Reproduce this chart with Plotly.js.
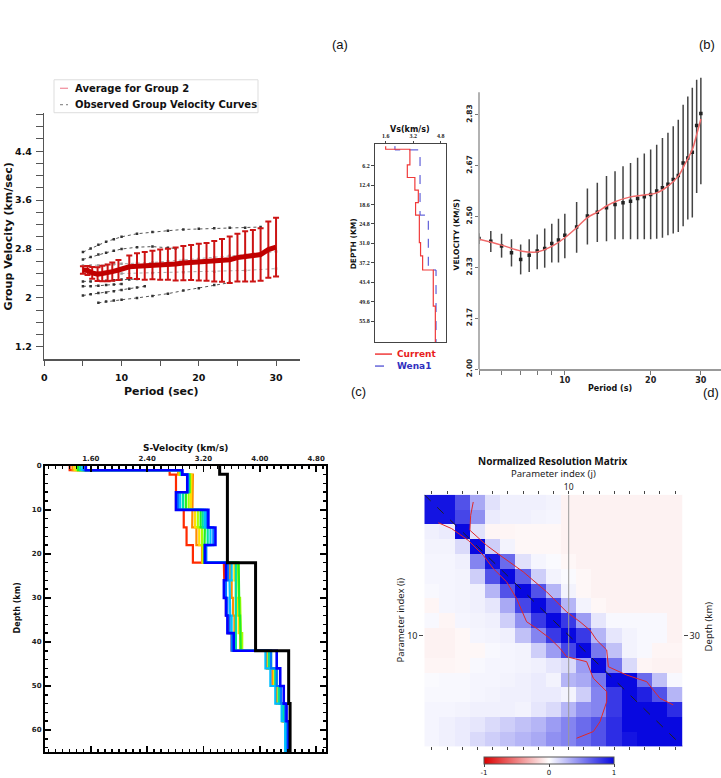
<!DOCTYPE html>
<html><head><meta charset="utf-8">
<script src="https://cdn.plot.ly/plotly-3.0.1.min.js"></script>
<style>html,body{margin:0;padding:0;background:#fff;}#chart{width:721px;height:778px;}</style>
</head><body><div id="chart"></div>
<script>
// ---------- (a) left: group velocity ----------
const avgPeriod = [5, 5.6, 6.2, 6.9, 7.5, 8.2, 8.8, 9.6, 11, 12, 13, 14, 15, 16, 17, 18, 19, 20, 21, 22, 23, 24, 25, 26, 27, 28, 29, 30];
const avgVel = [2.457, 2.45, 2.41, 2.39, 2.40, 2.41, 2.43, 2.457, 2.51, 2.52, 2.525, 2.54, 2.545, 2.55, 2.555, 2.57, 2.58, 2.585, 2.59, 2.60, 2.615, 2.625, 2.66, 2.68, 2.69, 2.71, 2.79, 2.83];
const avgErr = [0.06, 0.073, 0.095, 0.114, 0.128, 0.136, 0.15, 0.163, 0.185, 0.21, 0.226, 0.234, 0.247, 0.253, 0.27, 0.28, 0.285, 0.30, 0.31, 0.33, 0.35, 0.38, 0.39, 0.41, 0.42, 0.43, 0.46, 0.48];
const obsAP = [5, 6, 7, 8, 9, 10, 12, 14, 16, 18, 20, 22, 24, 26, 28];
const obsAV = [2.75, 2.81, 2.87, 2.92, 2.96, 3.00, 3.05, 3.08, 3.10, 3.12, 3.13, 3.14, 3.15, 3.15, 3.16];
const obsBP = [5, 6, 7, 8, 9, 10, 12, 14, 16, 17];
const obsBV = [2.63, 2.67, 2.71, 2.74, 2.77, 2.80, 2.83, 2.84, 2.82, 2.81];
const obsCP = [5, 6, 7, 8, 9, 10, 12, 14, 16, 18, 20, 22, 24, 26, 28, 30];
const obsCV = [2.53, 2.53, 2.53, 2.54, 2.55, 2.56, 2.57, 2.58, 2.60, 2.62, 2.64, 2.66, 2.69, 2.71, 2.73, 2.76];
const obsDP = [5, 6, 7, 8, 9, 10, 11, 12];
const obsDV = [2.27, 2.27, 2.28, 2.28, 2.29, 2.30, 2.30, 2.31];
const obsEP = [5, 6, 7, 8, 9, 10];
const obsEV = [2.19, 2.19, 2.20, 2.21, 2.22, 2.23];
const obsFP = [5, 6, 7, 8, 9, 10, 11, 12, 13];
const obsFV = [2.04, 2.06, 2.08, 2.09, 2.11, 2.13, 2.15, 2.17, 2.19];
const obsGP = [7, 8, 9, 10, 12, 14, 16, 18, 20, 22, 24];
const obsGV = [1.92, 1.94, 1.96, 1.97, 2.00, 2.03, 2.07, 2.12, 2.16, 2.21, 2.25];
const obsHP = [10, 14, 18, 22, 26, 30];
const obsHV = [2.40, 2.41, 2.42, 2.43, 2.45, 2.48];
const aXTickVals = [0, 5, 10, 15, 20, 25, 30];
const aXTickText = ['0', '', '10', '', '20', '', '30'];
const aYTickVals = [1.2, 1.4, 1.6, 1.8, 2.0, 2.2, 2.4, 2.6, 2.8, 3.0, 3.2, 3.4, 3.6, 3.8, 4.0, 4.2, 4.4, 4.6, 4.8, 5.0];
const aYTickText = ['1.2', '', '', '', '2', '', '', '', '2.8', '', '', '', '3.6', '', '', '', '4.4', '', '', ''];

// ---------- (a) middle: Vs profiles ----------
const curBnd = [0, 1, 6, 10, 14, 18, 22, 30.8, 35, 39.5, 51, 62.5];
const curVs = [1.6, 3.01, 2.86, 3.30, 3.50, 3.34, 3.56, 3.63, 3.75, 4.37, 4.49];
const wenaBnd = [0, 1.2, 22, 39.5, 62.5];
const wenaVs = [2.14, 3.60, 4.08, 4.53];
const vsXTicks = [1.6, 3.2, 4.8];
const vsYTicks = [6.2, 12.4, 18.6, 24.8, 31.0, 37.2, 43.4, 49.6, 55.8];

// ---------- (b) dispersion fit ----------
const bPeriod = [5.0, 5.5, 6.0, 6.5, 7.0, 7.5, 8.0, 8.5, 9.0, 9.5, 10, 11, 12, 13, 14, 15, 16, 17, 18, 19, 20, 21, 22, 23, 24, 25, 26, 27, 28, 29, 30];
const bVel = [2.428, 2.419, 2.403, 2.381, 2.359, 2.373, 2.387, 2.395, 2.411, 2.423, 2.438, 2.465, 2.501, 2.514, 2.528, 2.539, 2.545, 2.550, 2.559, 2.564, 2.572, 2.583, 2.594, 2.605, 2.621, 2.634, 2.675, 2.691, 2.710, 2.798, 2.837];
const bTop = [2.445, 2.452, 2.443, 2.425, 2.408, 2.425, 2.441, 2.460, 2.476, 2.492, 2.509, 2.547, 2.591, 2.610, 2.632, 2.648, 2.664, 2.675, 2.692, 2.706, 2.719, 2.735, 2.757, 2.774, 2.795, 2.817, 2.866, 2.893, 2.921, 2.948, 2.990];
const bBot = [2.41, 2.383, 2.365, 2.336, 2.310, 2.318, 2.327, 2.332, 2.349, 2.349, 2.363, 2.381, 2.408, 2.416, 2.419, 2.425, 2.425, 2.425, 2.425, 2.425, 2.425, 2.427, 2.430, 2.438, 2.444, 2.449, 2.468, 2.490, 2.496, 2.577, 2.605];
const fitPeriod = [5, 6, 7, 7.9, 9, 10, 11, 12, 13, 14, 15, 17, 19, 21, 23, 25, 26.5, 28, 29, 30];
const fitVel = [2.425, 2.406, 2.387, 2.383, 2.402, 2.430, 2.463, 2.496, 2.514, 2.534, 2.548, 2.564, 2.570, 2.577, 2.599, 2.632, 2.675, 2.719, 2.768, 2.819];
const bXTickVals = [5, 6, 7, 8, 9, 10, 20, 30];
const bXTickText = ['', '', '', '', '', '10', '20', '30'];
const bYTickVals = [2.0, 2.1667, 2.3333, 2.5, 2.6667, 2.8333];
const bYTickText = ['2.00', '2.17', '2.33', '2.50', '2.67', '2.83'];

// ---------- (c) S-velocity model ensemble ----------
const layerBnd = [0, 1, 2, 6, 10, 14, 18, 22, 26, 30, 34, 38, 42, 46, 50, 54, 58, 65];
const profRed    = [1.30, 2.72, 2.81, 2.81, 2.92, 2.96, 3.05, 3.49, 3.50, 3.52, 3.55, 3.60, 4.10, 4.18, 4.24, 4.32, 4.38];
const profOrange = [1.34, 2.84, 3.05, 3.05, 3.04, 3.10, 3.18, 3.58, 3.60, 3.62, 3.64, 3.66, 4.11, 4.19, 4.25, 4.32, 4.38];
const profYellow = [1.37, 2.86, 3.03, 3.02, 3.08, 3.14, 3.19, 3.64, 3.66, 3.68, 3.70, 3.72, 4.12, 4.20, 4.26, 4.33, 4.38];
const profLime   = [1.40, 2.87, 3.01, 2.99, 3.12, 3.18, 3.20, 3.69, 3.70, 3.72, 3.73, 3.75, 4.14, 4.22, 4.27, 4.34, 4.39];
const profGreen  = [1.42, 2.88, 3.00, 2.95, 3.16, 3.22, 3.21, 3.70, 3.70, 3.71, 3.72, 3.73, 4.16, 4.24, 4.28, 4.35, 4.40];
const profTeal   = [1.45, 2.89, 2.99, 2.91, 3.19, 3.26, 3.22, 3.66, 3.66, 3.67, 3.66, 3.66, 4.13, 4.22, 4.27, 4.33, 4.39];
const profCyan   = [1.48, 2.89, 2.98, 2.87, 3.22, 3.30, 3.23, 3.60, 3.57, 3.58, 3.60, 3.62, 4.08, 4.15, 4.22, 4.31, 4.36];
const profAzure  = [1.50, 2.90, 2.97, 2.84, 3.25, 3.34, 3.24, 3.55, 3.52, 3.54, 3.57, 3.60, 4.16, 4.24, 4.30, 4.36, 4.39];
const profBlue   = [1.53, 2.90, 2.97, 2.81, 3.27, 3.37, 3.22, 3.52, 3.49, 3.52, 3.54, 3.63, 4.24, 4.29, 4.34, 4.38, 4.41];
const initBnd = [0, 1.9, 22, 42, 54, 65];
const initVs = [3.43, 3.54, 3.94, 4.41, 4.43];

// ---------- (d) resolution matrix ----------
const paramIdx = [1, 2, 3, 4, 5, 6, 7, 8, 9, 10, 11, 12, 13, 14, 15, 16, 17];
const resMatrix = [
 [0.95, 0.95, 0.70, 0.35, 0.12, 0.06, 0.06, 0.06, 0.05, -0.05, -0.05, -0.05, -0.05, -0.05, -0.05, -0.05, -0.05],
 [0.95, 0.95, 0.75, 0.45, 0.08, 0.06, 0.06, 0.05, 0.04, -0.05, -0.05, -0.05, -0.05, -0.05, -0.05, -0.05, -0.05],
 [0.06, 0.08, 1.00, 0.12, -0.04, -0.04, -0.03, -0.03, -0.03, -0.05, -0.05, -0.05, -0.05, -0.05, -0.05, -0.05, -0.05],
 [0.05, 0.05, 0.15, 1.00, 0.20, 0.05, -0.03, -0.03, -0.03, -0.05, -0.05, -0.05, -0.05, -0.05, -0.05, -0.05, -0.05],
 [0.04, 0.04, 0.06, 0.50, 0.95, 0.60, 0.12, 0.04, 0.02, -0.03, -0.05, -0.05, -0.05, -0.05, -0.05, -0.05, -0.05],
 [0.04, 0.04, 0.05, 0.20, 0.70, 1.00, 0.65, 0.20, 0.05, 0.02, -0.03, -0.05, -0.05, -0.05, -0.05, -0.05, -0.05],
 [0.03, 0.04, 0.05, 0.06, 0.30, 0.70, 1.00, 0.70, 0.30, 0.05, -0.03, -0.05, -0.05, -0.05, -0.05, -0.05, -0.05],
 [-0.04, 0.04, 0.05, 0.06, 0.10, 0.35, 0.75, 1.00, 0.75, 0.30, 0.05, -0.03, -0.05, -0.05, -0.05, -0.05, -0.05],
 [0.03, -0.04, 0.04, 0.05, 0.06, 0.20, 0.45, 0.80, 1.00, 0.80, 0.40, 0.10, 0.03, 0.03, 0.03, 0.03, -0.05],
 [-0.05, -0.05, -0.03, 0.04, 0.05, 0.06, 0.25, 0.50, 0.80, 1.00, 0.80, 0.30, 0.10, 0.05, 0.03, 0.03, -0.05],
 [-0.05, -0.05, -0.03, -0.03, 0.03, 0.04, 0.05, 0.20, 0.40, 0.75, 1.00, 0.55, 0.25, 0.05, 0.03, -0.04, -0.04],
 [-0.04, -0.04, -0.03, 0.03, 0.04, 0.04, 0.05, 0.06, 0.10, 0.15, 0.40, 1.00, 0.55, 0.15, -0.04, -0.05, -0.05],
 [0.02, 0.03, 0.03, 0.04, 0.04, 0.05, 0.06, 0.08, 0.05, 0.30, 0.35, 0.55, 1.00, 1.00, 0.60, 0.25, 0.03],
 [0.03, 0.03, 0.03, 0.04, 0.05, 0.06, 0.06, 0.08, 0.08, 0.05, 0.20, 0.50, 0.80, 1.00, 0.90, 0.70, 0.30],
 [0.04, 0.04, 0.05, 0.06, 0.06, 0.06, 0.05, 0.10, 0.15, 0.30, 0.45, 0.50, 0.80, 1.00, 1.00, 1.00, 0.85],
 [0.04, 0.06, 0.08, 0.10, 0.15, 0.20, 0.25, 0.30, 0.40, 0.50, 0.60, 0.70, 0.85, 1.00, 1.00, 1.00, 1.00],
 [0.04, 0.06, 0.08, 0.15, 0.20, 0.25, 0.30, 0.35, 0.45, 0.50, 0.60, 0.70, 0.85, 0.95, 1.00, 1.00, 1.00]
];
const contourAJ = [3.72, 3.55, 3.50, 4.60, 5.48, 7.01, 8.55, 9.86, 10.74, 11.40, 11.84, 12.50, 12.61, 13.81, 15.13, 16.00, 16.88];
const contourAI = [0.99, 1.89, 2.90, 3.92, 4.59, 5.71, 7.06, 8.41, 9.08, 9.65, 10.32, 10.99, 12.12, 12.68, 13.13, 14.25, 14.70];
const contourBJ = [1.42, 2.30, 3.39, 4.38, 5.04, 5.92, 6.57, 7.23, 7.89, 8.77, 9.43, 9.86, 11.18, 11.62, 12.50, 12.50, 12.06, 11.62, 10.52];
const contourBI = [2.39, 2.79, 3.58, 4.59, 5.49, 6.39, 7.51, 9.08, 9.53, 10.21, 10.88, 11.44, 11.78, 12.90, 13.80, 14.48, 15.83, 16.50, 16.95];
const dTopTickText = paramIdx.map(i => i === 10 ? '10' : '');

// ---------- helpers ----------
const W = 721, H = 778;
const PX = v => v / W;
const PY = v => 1 - v / H;
function steps(bnds, vals) {
  const x = [], y = [];
  vals.forEach((v, i) => { x.push(v, v); y.push(bnds[i], bnds[i + 1]); });
  return {x, y};
}
const B = 'DejaVu Sans';
const traces = [];

// (a) observed curves
[[obsAP, obsAV], [obsBP, obsBV], [obsCP, obsCV], [obsDP, obsDV], [obsEP, obsEV], [obsFP, obsFV], [obsGP, obsGV], [obsHP, obsHV]].forEach(([p, v], k) => {
  traces.push({type: 'scatter', x: p, y: v, xaxis: 'x', yaxis: 'y', mode: 'lines+markers',
    line: {color: k === 7 || k === 2 ? '#aaa' : '#555', width: 1, dash: 'dot'},
    marker: {size: 2.5, color: k === 7 || k === 2 ? '#999' : '#333', symbol: 'square'},
    name: 'Observed Group Velocity Curves', showlegend: false, hoverinfo: 'skip'});
});
traces.push({type: 'scatter', x: avgPeriod, y: avgVel, xaxis: 'x', yaxis: 'y', mode: 'lines',
  line: {color: '#c00000', width: 5}, name: 'Average for Group 2', showlegend: false,
  error_y: {type: 'data', array: avgErr, visible: true, color: '#cc1414', thickness: 2, width: 3}});

// (a) middle
const cur = steps(curBnd, curVs), wena = steps(wenaBnd, wenaVs);
traces.push({type: 'scatter', x: wena.x, y: wena.y, xaxis: 'x2', yaxis: 'y2', mode: 'lines',
  line: {color: '#4040d0', width: 1, dash: 'dash'}, name: 'Wena1', showlegend: false});
traces.push({type: 'scatter', x: cur.x, y: cur.y, xaxis: 'x2', yaxis: 'y2', mode: 'lines',
  line: {color: '#f03a3a', width: 1.2}, name: 'Current', showlegend: false});

// (b)
traces.push({type: 'scatter', x: bPeriod, y: bVel, xaxis: 'x3', yaxis: 'y3', mode: 'markers',
  marker: {symbol: 'square', size: 3.5, color: '#222'}, showlegend: false,
  error_y: {type: 'data', symmetric: false, array: bTop.map((t, i) => t - bVel[i]),
    arrayminus: bBot.map((b, i) => bVel[i] - b), color: '#444', thickness: 1.5, width: 0}});
traces.push({type: 'scatter', x: fitPeriod, y: fitVel, xaxis: 'x3', yaxis: 'y3', mode: 'lines',
  line: {color: '#f06a6a', width: 1.5, shape: 'spline', smoothing: 1}, showlegend: false});

// (c)
const profiles = [[profRed, '#ff2a00'], [profOrange, '#ff8c00'], [profYellow, '#ffdd00'], [profLime, '#a6ff00'],
  [profGreen, '#22ee22'], [profTeal, '#00e0a0'], [profCyan, '#00c0ff'], [profAzure, '#0078ff'], [profBlue, '#0000ff']];
profiles.forEach(([vals, col], k) => {
  const s = steps(layerBnd, vals);
  traces.push({type: 'scatter', x: s.x, y: s.y, xaxis: 'x4', yaxis: 'y4', mode: 'lines',
    line: {color: col, width: k === profiles.length - 1 ? 2.6 : 2.2}, showlegend: false, hoverinfo: 'skip'});
});
const init = steps(initBnd, initVs);
traces.push({type: 'scatter', x: init.x, y: init.y, xaxis: 'x4', yaxis: 'y4', mode: 'lines',
  line: {color: '#000', width: 3}, showlegend: false});

// (d)
traces.push({type: 'heatmap', z: resMatrix, x: paramIdx, y: paramIdx, xaxis: 'x5', yaxis: 'y5',
  colorscale: [[0, '#dc0000'], [0.5, '#ffffff'], [1, '#0808e0']], zmin: -1, zmax: 1,
  colorbar: {orientation: 'h', x: PX(549), xanchor: 'center', y: PY(759), yanchor: 'top',
    len: 130, lenmode: 'pixels', thickness: 7, thicknessmode: 'pixels', xpad: 0, ypad: 0,
    tickvals: [-1, 0, 1], ticktext: ['-1', '0', '1'], ticks: 'outside', ticklen: 3,
    tickfont: {size: 7, family: B}, outlinewidth: 1, outlinecolor: '#555'}});
traces.push({type: 'scatter', x: contourAJ, y: contourAI, xaxis: 'x5', yaxis: 'y5', mode: 'lines',
  line: {color: '#e02828', width: 1}, showlegend: false, hoverinfo: 'skip'});
traces.push({type: 'scatter', x: contourBJ, y: contourBI, xaxis: 'x5', yaxis: 'y5', mode: 'lines',
  line: {color: '#e02828', width: 1}, showlegend: false, hoverinfo: 'skip'});
traces.push({type: 'scatter', x: [null], y: [null], xaxis: 'x5', yaxis: 'y6', showlegend: false, hoverinfo: 'skip'});

const bold = (s, c) => ({size: s, family: B, weight: 'bold', color: c || '#111'});
const noAx = {showgrid: false, zeroline: false, automargin: false};

const layout = {
  width: W, height: H, margin: {l: 0, r: 0, t: 0, b: 0}, showlegend: false,
  paper_bgcolor: '#fff', plot_bgcolor: 'rgba(0,0,0,0)', font: {family: B, color: '#111'},
  xaxis: Object.assign({}, noAx, {domain: [PX(44.3), PX(300)], range: [0, 33.1], anchor: 'y',
    showline: true, linecolor: '#555', linewidth: 1.5, ticks: 'outside', ticklen: 5, tickcolor: '#555',
    tickvals: aXTickVals, ticktext: aXTickText, tickfont: bold(9.5), ticklabelstandoff: 4}),
  yaxis: Object.assign({}, noAx, {domain: [PY(360), PY(113)], range: [1.0, 5.03], anchor: 'x',
    showline: true, linecolor: '#555', linewidth: 1.5, ticks: 'outside', ticklen: 7, tickcolor: '#555',
    tickvals: aYTickVals, ticktext: aYTickText, tickfont: bold(9.5), ticklabelstandoff: 2}),
  xaxis2: Object.assign({}, noAx, {domain: [PX(375), PX(446)], range: [0.98, 5.11], anchor: 'y2', side: 'top',
    showline: true, mirror: true, linecolor: '#444', linewidth: 1, ticks: 'outside', ticklen: 2, tickcolor: '#444',
    tickvals: vsXTicks, ticktext: vsXTicks.map(v => v.toFixed(1)),
    tickfont: {size: 6, family: 'Liberation Serif', weight: 'bold', color: '#222'}}),
  yaxis2: Object.assign({}, noAx, {domain: [PY(343), PY(144)], range: [62.5, -0.8], anchor: 'x2',
    showline: true, mirror: true, linecolor: '#444', linewidth: 1, ticks: 'outside', ticklen: 3, tickcolor: '#444',
    tickvals: vsYTicks, ticktext: vsYTicks.map(v => v.toFixed(1)),
    tickfont: {size: 6, family: 'Liberation Serif', weight: 'bold', color: '#222'}}),
  xaxis3: Object.assign({}, noAx, {domain: [PX(479), 1], type: 'log', range: [Math.log10(5), Math.log10(35.3)], anchor: 'y3',
    showline: true, linecolor: '#999', linewidth: 1.5, ticks: 'outside', ticklen: 4, tickcolor: '#777',
    tickvals: bXTickVals, ticktext: bXTickText, tickfont: bold(8, '#222'), ticklabelstandoff: -1}),
  yaxis3: Object.assign({}, noAx, {domain: [PY(370), PY(78)], range: [2.0, 2.954], anchor: 'x3',
    showline: false, ticks: 'outside', ticklen: 3, tickcolor: '#777',
    tickvals: bYTickVals, ticktext: bYTickText, tickangle: -90, tickfont: bold(7.5, '#222')}),
  xaxis4: Object.assign({}, noAx, {domain: [PX(45), PX(326)], range: [0.95, 4.94], anchor: 'y4', side: 'top',
    showline: true, mirror: 'allticks', linecolor: '#000', linewidth: 2, ticks: 'inside', ticklen: 6, tickwidth: 1.5, tickcolor: '#000',
    tick0: 1.6, dtick: 0.8, tickformat: '.2f', tickfont: bold(7, '#222'),
    minor: {tick0: 1.6, dtick: 0.1, ticks: 'inside', ticklen: 3, tickwidth: 1.5, tickcolor: '#000'}}),
  yaxis4: Object.assign({}, noAx, {domain: [PY(754), PY(467)], range: [65, 0], anchor: 'x4',
    showline: true, mirror: 'allticks', linecolor: '#000', linewidth: 2, ticks: 'inside', ticklen: 6, tickwidth: 1.5, tickcolor: '#000',
    tick0: 0, dtick: 10, tickfont: bold(7, '#222'),
    minor: {tick0: 0, dtick: 2, ticks: 'inside', ticklen: 3, tickwidth: 1.5, tickcolor: '#000'}}),
  xaxis5: Object.assign({}, noAx, {domain: [PX(424.3), PX(682.7)], range: [0.5, 17.5], anchor: 'y5', side: 'top',
    showline: false, mirror: 'ticks', ticks: 'outside', ticklen: 3, tickcolor: '#444', ticklabelstandoff: -3,
    tickvals: paramIdx, ticktext: dTopTickText, tickfont: {size: 8.5, family: 'Noto Sans', color: '#222'}}),
  yaxis5: Object.assign({}, noAx, {domain: [PY(748.3), PY(496)], range: [17.5, 0.5], anchor: 'x5',
    showline: false, ticks: 'outside', ticklen: 4, tickcolor: '#444',
    tickvals: [10], ticktext: ['10'], tickfont: {size: 9, family: 'Noto Sans', color: '#222'}}),
  yaxis6: Object.assign({}, noAx, {overlaying: 'y5', side: 'right', anchor: 'x5', range: [17.5, 0.5],
    showline: false, ticks: 'outside', ticklen: 4, tickcolor: '#444',
    tickvals: [10], ticktext: ['30'], tickfont: {size: 9, family: 'Noto Sans', color: '#222'}}),
  shapes: [
    {type: 'line', xref: 'paper', yref: 'y3', x0: PX(479), x1: PX(479), y0: 2.0, y1: 2.907, line: {color: '#999', width: 1.5}},
    {type: 'line', xref: 'x5', yref: 'y5', x0: 10, x1: 10, y0: 0.5, y1: 17.5, line: {color: '#999', width: 1}},
    {type: 'line', xref: 'x5', yref: 'y5', x0: 0.5, x1: 17.5, y0: 0.5, y1: 17.5, line: {color: '#222', width: 1, dash: 'dash'}},
    {type: 'rect', xref: 'paper', yref: 'paper', x0: PX(54), x1: PX(258), y0: PY(113), y1: PY(80), line: {color: '#ddd', width: 1}},
    {type: 'line', xref: 'paper', yref: 'paper', x0: PX(60), x1: PX(68), y0: PY(88.5), y1: PY(88.5), line: {color: '#f08a9a', width: 1.2}},
    {type: 'line', xref: 'paper', yref: 'paper', x0: PX(60), x1: PX(68), y0: PY(105), y1: PY(105), line: {color: '#777', width: 1, dash: 'dot'}},
    {type: 'line', xref: 'paper', yref: 'paper', x0: PX(375), x1: PX(392), y0: PY(355), y1: PY(355), line: {color: '#f03a3a', width: 1.5}},
    {type: 'line', xref: 'paper', yref: 'paper', x0: PX(375), x1: PX(392), y0: PY(367), y1: PY(367), line: {color: '#4040d0', width: 1.2, dash: 'dash'}}
  ],
  annotations: []
};
const ann = (text, x, y, font, extra) => layout.annotations.push(Object.assign({text, x: PX(x), y: PY(y), xref: 'paper', yref: 'paper',
  showarrow: false, xanchor: 'center', yanchor: 'middle', font}, extra || {}));
ann('(a)', 340, 45, {size: 13, family: 'Liberation Sans', color: '#111'});
ann('(b)', 707, 45, {size: 13, family: 'Liberation Sans', color: '#111'});
ann('(c)', 358, 393, {size: 13, family: 'Liberation Sans', color: '#111'});
ann('(d)', 711, 394, {size: 13, family: 'Liberation Sans', color: '#111'});
ann('Average for Group 2', 73, 88.5, bold(10), {xanchor: 'left'});
ann('Observed Group Velocity Curves', 73, 105, bold(10), {xanchor: 'left'});
ann('Group Velocity (km/sec)', 8, 237, bold(11), {textangle: -90});
ann('Period (sec)', 161, 393, bold(11));
ann('Vs(km/s)', 410, 130, bold(8));
ann('DEPTH (KM)', 353, 245, bold(7.5), {textangle: -90});
ann('Current', 395, 355, bold(9, '#e82020'), {xanchor: 'left'});
ann('Wena1', 395, 367, bold(9, '#3030c0'), {xanchor: 'left'});
ann('VELOCITY (KM/S)', 456, 235, bold(7.5), {textangle: -90});
ann('Period (s)', 610, 390, bold(8));
ann('S-Velocity (km/s)', 185, 449, bold(9));
ann('Depth (km)', 17, 610, bold(8), {textangle: -90});
ann('Normalized Resolution Matrix', 553, 462, {size: 10, family: 'Noto Sans', weight: 'bold', color: '#111'});
ann('Parameter index (j)', 553, 475, {size: 9.5, family: 'Noto Sans', color: '#222'});
ann('Parameter index (i)', 400, 622, {size: 9.5, family: 'Noto Sans', color: '#222'}, {textangle: -90});
ann('Depth (km)', 708, 628, {size: 9.5, family: 'Noto Sans', color: '#222'}, {textangle: -90});

Plotly.newPlot('chart', traces, layout, {displayModeBar: false, staticPlot: true});
</script></body></html>
